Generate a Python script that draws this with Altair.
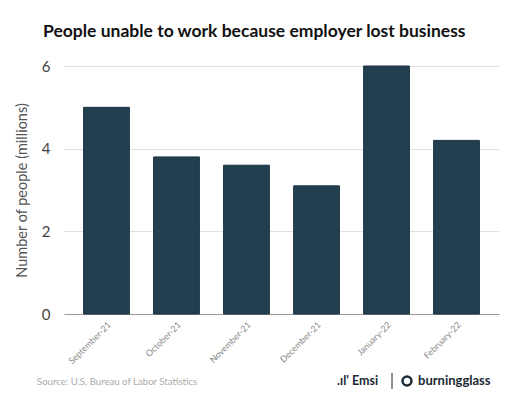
import altair as alt
import pandas as pd

months = ["September-21", "October-21", "November-21", "December-21", "January-22", "February-22"]
values = [5.0, 3.8, 3.6, 3.1, 6.0, 4.2]
y_ticks = [0, 2, 4, 6]
title_text = "People unable to work because employer lost business"
source_text = "Source:  U.S. Bureau of Labor Statistics"

df = pd.DataFrame({"month": months, "value": values})
FONT = "Lato"

bars = alt.Chart(df).mark_bar(color="#233f4f", stroke="#1a3342", strokeWidth=1).encode(
    x=alt.X("month:N", sort=months,
            scale=alt.Scale(paddingInner=0.346, paddingOuter=0.28),
            axis=alt.Axis(title=None, labelAngle=-45, labelFontSize=8.8, labelColor="#888888",
                          labelFont=FONT, ticks=False, domain=True, domainColor="#999999",
                          labelPadding=6, grid=False)),
    y=alt.Y("value:Q", scale=alt.Scale(domain=[0, 6]),
            axis=alt.Axis(title="Number of people (millions)", values=y_ticks, titleFontSize=14.5,
                          titleFontWeight="normal", titleColor="#555555", titleFont=FONT,
                          labelFontSize=15, labelColor="#444444", labelFont=FONT,
                          ticks=False, domain=False, gridColor="#e0e0e0", labelPadding=14,
                          titlePadding=12)),
)

def txt(s, x, y, size, color, weight="normal", align="left"):
    return alt.Chart(pd.DataFrame({"t": [s]})).mark_text(
        align=align, baseline="alphabetic", fontSize=size, color=color, font=FONT, fontWeight=weight
    ).encode(text="t:N", x=alt.value(x), y=alt.value(y))

title = txt(title_text, -21, -29, 17.5, "#111111", "bold")
source = txt(source_text, -27, 319, 9.6, "#aaaaaa")
emsi = txt(".ıl' Emsi", 273, 319, 12.5, "#1a2a36", "bold")
burning = txt("burningglass", 354, 319, 13, "#1a2a36", "bold")
sep = alt.Chart(pd.DataFrame({"a": [0]})).mark_rule(color="#1a2a36", strokeWidth=1).encode(
    x=alt.value(328), y=alt.value(307), y2=alt.value(323))
ring = alt.Chart(pd.DataFrame({"a": [0]})).mark_point(
    shape="circle", filled=False, color="#1a2a36", strokeWidth=2.5, size=80, opacity=1
).encode(x=alt.value(343), y=alt.value(315))

chart = alt.layer(bars, title, source, emsi, sep, ring, burning).properties(
    width=435, height=248,
    autosize=alt.AutoSizeParams(type="none"),
    padding={"left": 56, "top": 58, "right": 5, "bottom": 76},
).configure_view(stroke=None)

chart.save("out.html", embed_options={"renderer": "svg", "actions": False})
